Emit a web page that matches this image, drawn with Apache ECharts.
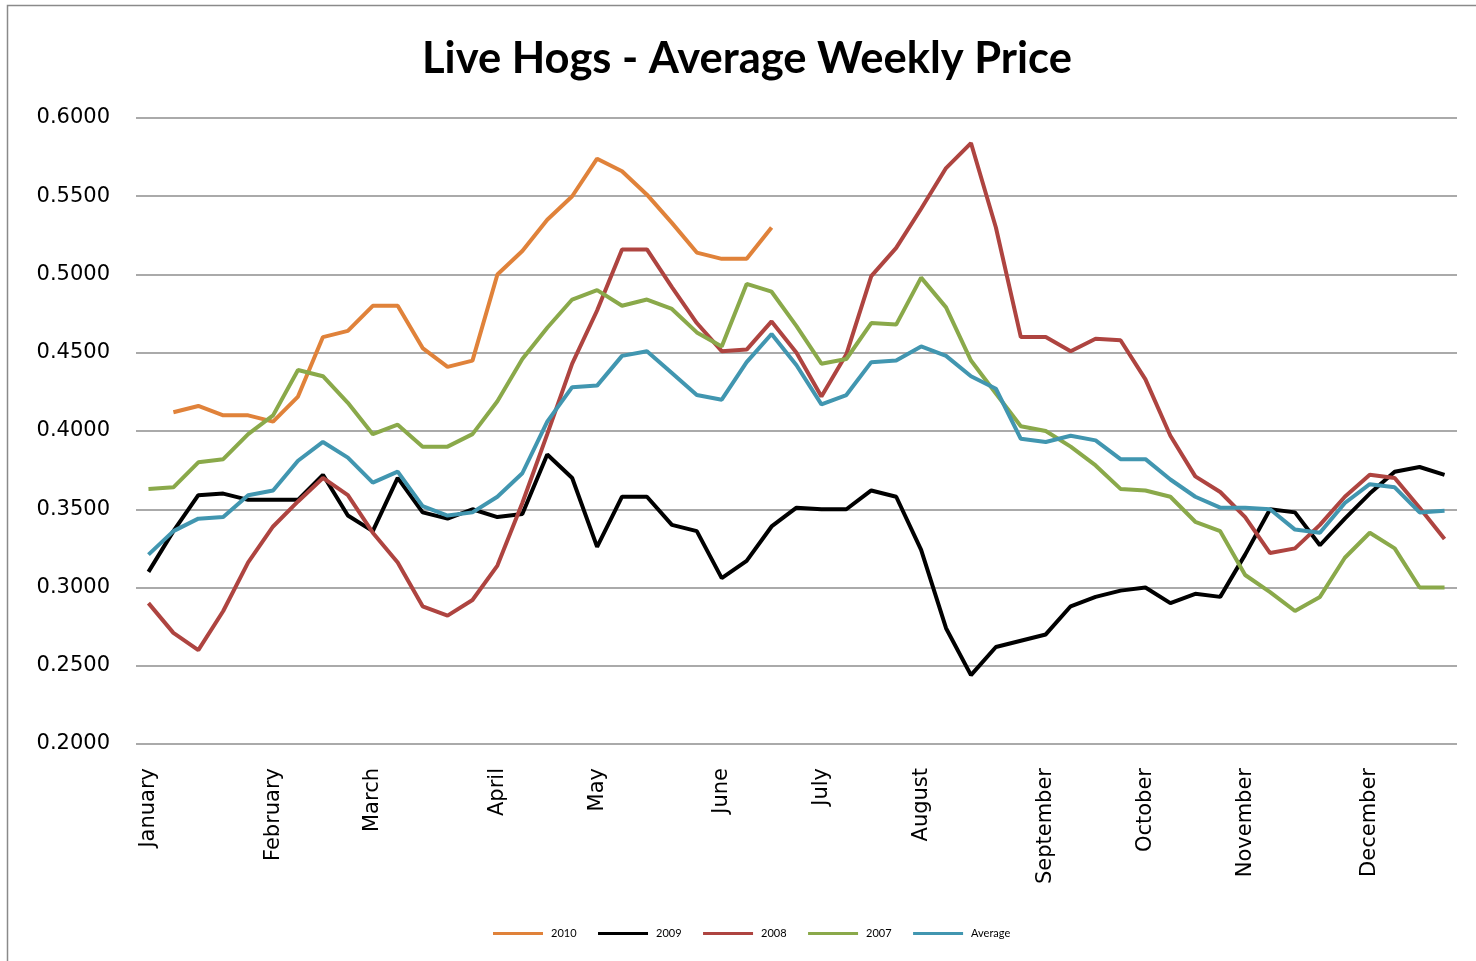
<!DOCTYPE html>
<html>
<head>
<meta charset="utf-8">
<title>Live Hogs - Average Weekly Price</title>
<script src="https://cdn.jsdelivr.net/npm/echarts@6.0.0/dist/echarts.min.js"></script>
<style>
	html, body { margin: 0; padding: 0; background: #fff; }
	#chart { width: 1476px; height: 961px; }
</style>
</head>
<body>
<div id="chart"></div>
<script>
// 53 weekly points, month names shown at the first week of each month
const weeks = Array.from({ length: 53 }, (_, i) => 'W' + (i + 1));
const monthWeeks = [0, 5, 9, 14, 18, 23, 27, 31, 36, 40, 44, 49];
const monthNames = ['January', 'February', 'March', 'April', 'May', 'June', 'July', 'August', 'September', 'October', 'November', 'December'];
const yTicks = [0.2, 0.25, 0.3, 0.35, 0.4, 0.45, 0.5, 0.55, 0.6];

const hogs2010 = [null, 0.412, 0.416, 0.410, 0.410, 0.406, 0.422, 0.460, 0.464, 0.480, 0.480, 0.453, 0.441, 0.445, 0.500, 0.515, 0.535, 0.550, 0.574, 0.566, 0.551, 0.533, 0.514, 0.510, 0.510, 0.530];
const hogs2009 = [0.310, 0.336, 0.359, 0.360, 0.356, 0.356, 0.356, 0.372, 0.346, 0.336, 0.370, 0.348, 0.344, 0.350, 0.345, 0.347, 0.385, 0.370, 0.326, 0.358, 0.358, 0.340, 0.336, 0.306, 0.317, 0.339, 0.351, 0.350, 0.350, 0.362, 0.358, 0.324, 0.274, 0.244, 0.262, 0.266, 0.270, 0.288, 0.294, 0.298, 0.300, 0.290, 0.296, 0.294, 0.321, 0.350, 0.348, 0.327, 0.344, 0.360, 0.374, 0.377, 0.372];
const hogs2008 = [0.290, 0.271, 0.260, 0.285, 0.316, 0.339, 0.355, 0.370, 0.359, 0.335, 0.316, 0.288, 0.282, 0.292, 0.314, 0.354, 0.398, 0.443, 0.477, 0.516, 0.516, 0.492, 0.469, 0.451, 0.452, 0.470, 0.450, 0.422, 0.449, 0.499, 0.517, 0.542, 0.568, 0.584, 0.530, 0.460, 0.460, 0.451, 0.459, 0.458, 0.433, 0.397, 0.371, 0.361, 0.345, 0.322, 0.325, 0.340, 0.358, 0.372, 0.370, 0.351, 0.331];
const hogs2007 = [0.363, 0.364, 0.380, 0.382, 0.398, 0.410, 0.439, 0.435, 0.418, 0.398, 0.404, 0.390, 0.390, 0.398, 0.419, 0.446, 0.466, 0.484, 0.490, 0.480, 0.484, 0.478, 0.463, 0.454, 0.494, 0.489, 0.467, 0.443, 0.446, 0.469, 0.468, 0.498, 0.479, 0.445, 0.424, 0.403, 0.400, 0.390, 0.378, 0.363, 0.362, 0.358, 0.342, 0.336, 0.308, 0.297, 0.285, 0.294, 0.319, 0.335, 0.325, 0.300, 0.300];
const hogsAverage = [0.321, 0.336, 0.344, 0.345, 0.359, 0.362, 0.381, 0.393, 0.383, 0.367, 0.374, 0.352, 0.346, 0.348, 0.358, 0.373, 0.406, 0.428, 0.429, 0.448, 0.451, 0.437, 0.423, 0.420, 0.444, 0.462, 0.442, 0.417, 0.423, 0.444, 0.445, 0.454, 0.448, 0.435, 0.427, 0.395, 0.393, 0.397, 0.394, 0.382, 0.382, 0.369, 0.358, 0.351, 0.351, 0.350, 0.337, 0.335, 0.354, 0.366, 0.364, 0.348, 0.349];

const seriesNames = ['2010', '2009', '2008', '2007', 'Average'];
const seriesData = [hogs2010, hogs2009, hogs2008, hogs2007, hogsAverage];
const colors = ['#E0823A', '#000000', '#AE4440', '#8AA94A', '#4196B0'];

let chart = echarts.init(document.getElementById('chart'));

let option = {
	backgroundColor: '#fff',
	animation: false,
	color: colors,
	title: {
		text: 'Live Hogs - Average Weekly Price',
		left: 417,
		top: 32,
		textStyle: { fontFamily: 'Lato', fontWeight: 'bold', fontSize: 43.5, color: '#000' }
	},
	graphic: [{
		type: 'rect',
		shape: { x: 7.5, y: 5.5, width: 1490, height: 990 },
		style: { fill: 'none', stroke: '#8a8a8a', lineWidth: 1.5 },
		silent: true
	}],
	legend: {
		data: seriesNames,
		bottom: 17,
		left: 488,
		icon: 'rect',
		itemWidth: 50,
		itemHeight: 3,
		itemGap: 21.5,
		textStyle: { fontFamily: 'Lato', fontSize: 11, color: '#000', padding: [0, 0, 0, 3] }
	},
	grid: { left: 136, right: 19, top: 118, bottom: 217 },
	xAxis: {
		type: 'category',
		data: weeks,
		boundaryGap: true,
		axisLine: { show: false },
		axisTick: { show: false },
		axisLabel: {
			rotate: 90,
			margin: 24,
			interval: 0,
			fontFamily: 'DejaVu Sans',
			fontSize: 21,
			color: '#000',
			formatter: function (value, index) {
				let m = monthWeeks.indexOf(index);
				return m >= 0 ? monthNames[m] : '';
			}
		}
	},
	yAxis: {
		type: 'value',
		min: yTicks[0],
		max: yTicks[yTicks.length - 1],
		interval: 0.05,
		axisLine: { show: false },
		axisTick: { show: false },
		splitLine: { lineStyle: { color: '#8e8e8e', width: 1.5 } },
		axisLabel: {
			margin: 26,
			padding: [3, 0, 0, 0],
			fontFamily: 'DejaVu Sans',
			fontSize: 21,
			color: '#000',
			formatter: v => v.toFixed(4)
		}
	},
	series: seriesNames.map((name, i) => ({
		name: name,
		type: 'line',
		data: seriesData[i],
		symbol: 'none',
		lineStyle: { width: 4, color: colors[i] },
		itemStyle: { color: colors[i] }
	}))
};

chart.setOption(option);
</script>
</body>
</html>
